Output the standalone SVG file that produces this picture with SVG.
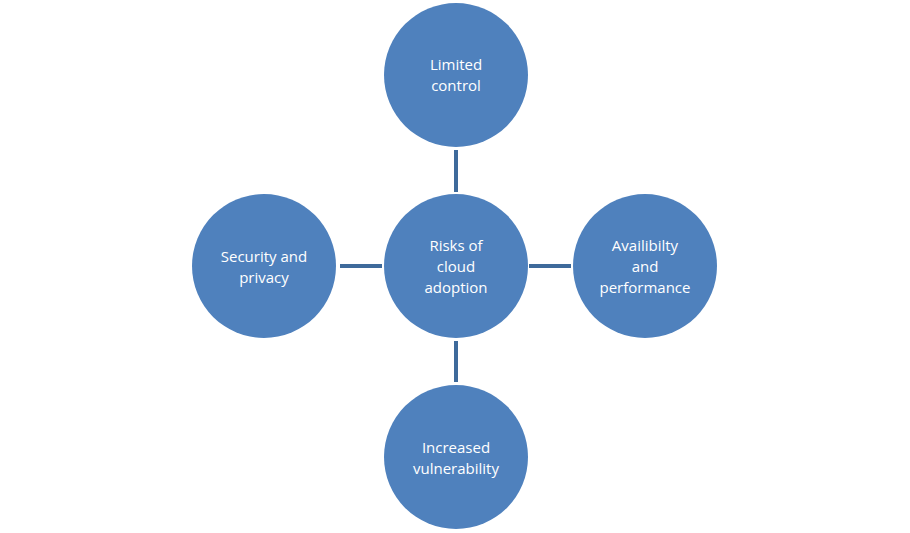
<svg xmlns="http://www.w3.org/2000/svg" width="910" height="533" viewBox="0 0 910 533">
<style>
.n{fill:#4F81BD}
.t{fill:#fff;font-family:"Open Sans","Liberation Sans",sans-serif;font-size:15px;text-anchor:middle}
.c{stroke:#3E6A9B;stroke-width:4}
</style>
<rect width="910" height="533" fill="#fff"/>
<g id="connectors">
<line class="c" x1="456" y1="150" x2="456" y2="192"/>
<line class="c" x1="456" y1="341" x2="456" y2="382"/>
<line class="c" x1="340" y1="266" x2="382" y2="266"/>
<line class="c" x1="529" y1="266" x2="571" y2="266"/>
</g>
<g id="center"><circle class="n" cx="456" cy="266" r="72"/><text class="t" x="456" y="251">Risks of</text><text class="t" x="456" y="272">cloud</text><text class="t" x="456" y="293">adoption</text></g>
<g id="top"><circle class="n" cx="456" cy="75" r="72"/><text class="t" x="456" y="70">Limited</text><text class="t" x="456" y="91">control</text></g>
<g id="left"><circle class="n" cx="264" cy="266" r="72"/><text class="t" x="264" y="262">Security and</text><text class="t" x="264" y="283">privacy</text></g>
<g id="right"><circle class="n" cx="645" cy="266" r="72"/><text class="t" x="645" y="251">Availibilty</text><text class="t" x="645" y="272">and</text><text class="t" x="645" y="293">performance</text></g>
<g id="bottom"><circle class="n" cx="456" cy="457" r="72"/><text class="t" x="456" y="453">Increased</text><text class="t" x="456" y="474">vulnerability</text></g>
</svg>
